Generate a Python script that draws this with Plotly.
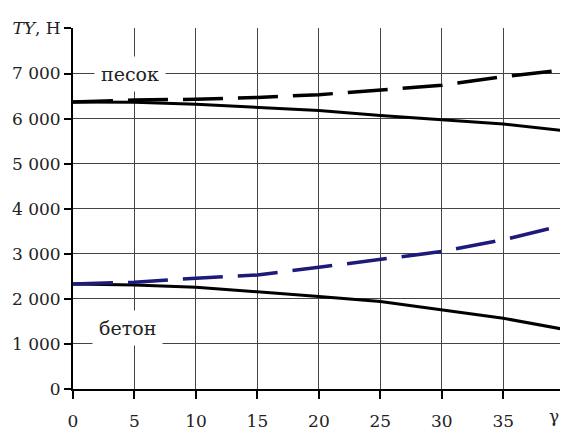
import plotly.graph_objects as go

gamma = [0, 5, 10, 15, 20, 25, 30, 35, 40]
sand_solid = [6370, 6360, 6320, 6250, 6180, 6070, 5980, 5880, 5730]
sand_dashed = [6370, 6410, 6430, 6470, 6530, 6630, 6740, 6930, 7080]
concrete_solid = [2330, 2310, 2260, 2160, 2050, 1940, 1760, 1570, 1320]
concrete_dashed = [2330, 2370, 2460, 2530, 2700, 2870, 3050, 3310, 3640]

x_ticks = [0, 5, 10, 15, 20, 25, 30, 35, 40]
x_labels = ["0", "5", "10", "15", "20", "25", "30", "35", ""]
x_axis_title = "γ°"
y_ticks = [0, 1000, 2000, 3000, 4000, 5000, 6000, 7000, 8000]
y_labels = ["0", "1 000", "2 000", "3 000", "4 000", "5 000", "6 000", "7 000", "<i>TY</i>, Н"]

FONT = "DejaVu Serif"

fig = go.Figure()
fig.add_trace(go.Scatter(x=gamma, y=sand_solid, mode="lines",
                         line=dict(color="black", width=3), showlegend=False))
fig.add_trace(go.Scatter(x=gamma, y=sand_dashed, mode="lines",
                         line=dict(color="black", width=3.5, dash="40px,15px"), showlegend=False))
fig.add_trace(go.Scatter(x=gamma, y=concrete_solid, mode="lines",
                         line=dict(color="black", width=3), showlegend=False))
fig.add_trace(go.Scatter(x=gamma, y=concrete_dashed, mode="lines",
                         line=dict(color="#1c1a7a", width=3.5, dash="40px,15px"), showlegend=False))

fig.add_annotation(x=4.6, y=7000, text="песок", showarrow=False,
                   font=dict(family=FONT, size=19, color="#222"),
                   bgcolor="white", borderpad=6)
fig.add_annotation(x=4.4, y=1350, text="бетон", showarrow=False,
                   font=dict(family=FONT, size=19, color="#222"),
                   bgcolor="white", borderpad=6)
fig.add_annotation(x=x_ticks[-1], xref="x", y=0, yref="paper", text=x_axis_title,
                   showarrow=False, xanchor="center", yanchor="top",
                   xshift=-6, yshift=-15,
                   font=dict(family=FONT, size=17, color="#222"))

fig.update_xaxes(range=[0, 40.02], tickvals=x_ticks, ticktext=x_labels,
                 showgrid=True, gridcolor="#444", gridwidth=1.3,
                 showline=True, linecolor="black", linewidth=2,
                 ticks="outside", ticklen=8, tickcolor="black", tickwidth=1.5,
                 ticklabelstandoff=8, zeroline=False, automargin=False,
                 ticklabeloverflow="allow",
                 tickfont=dict(family=FONT, size=17, color="#222"))
fig.update_yaxes(range=[0, 8010], tickvals=y_ticks, ticktext=y_labels,
                 showgrid=True, gridcolor="#444", gridwidth=1.3,
                 showline=True, linecolor="black", linewidth=2,
                 ticks="outside", ticklen=7, tickcolor="black", tickwidth=1.5,
                 zeroline=False, automargin=False,
                 ticklabeloverflow="allow",
                 tickfont=dict(family=FONT, size=17, color="#222"))

fig.update_layout(width=560, height=428, plot_bgcolor="white", paper_bgcolor="white",
                  margin=dict(l=65, r=3, t=20, b=47))

fig.write_html("out.html")
